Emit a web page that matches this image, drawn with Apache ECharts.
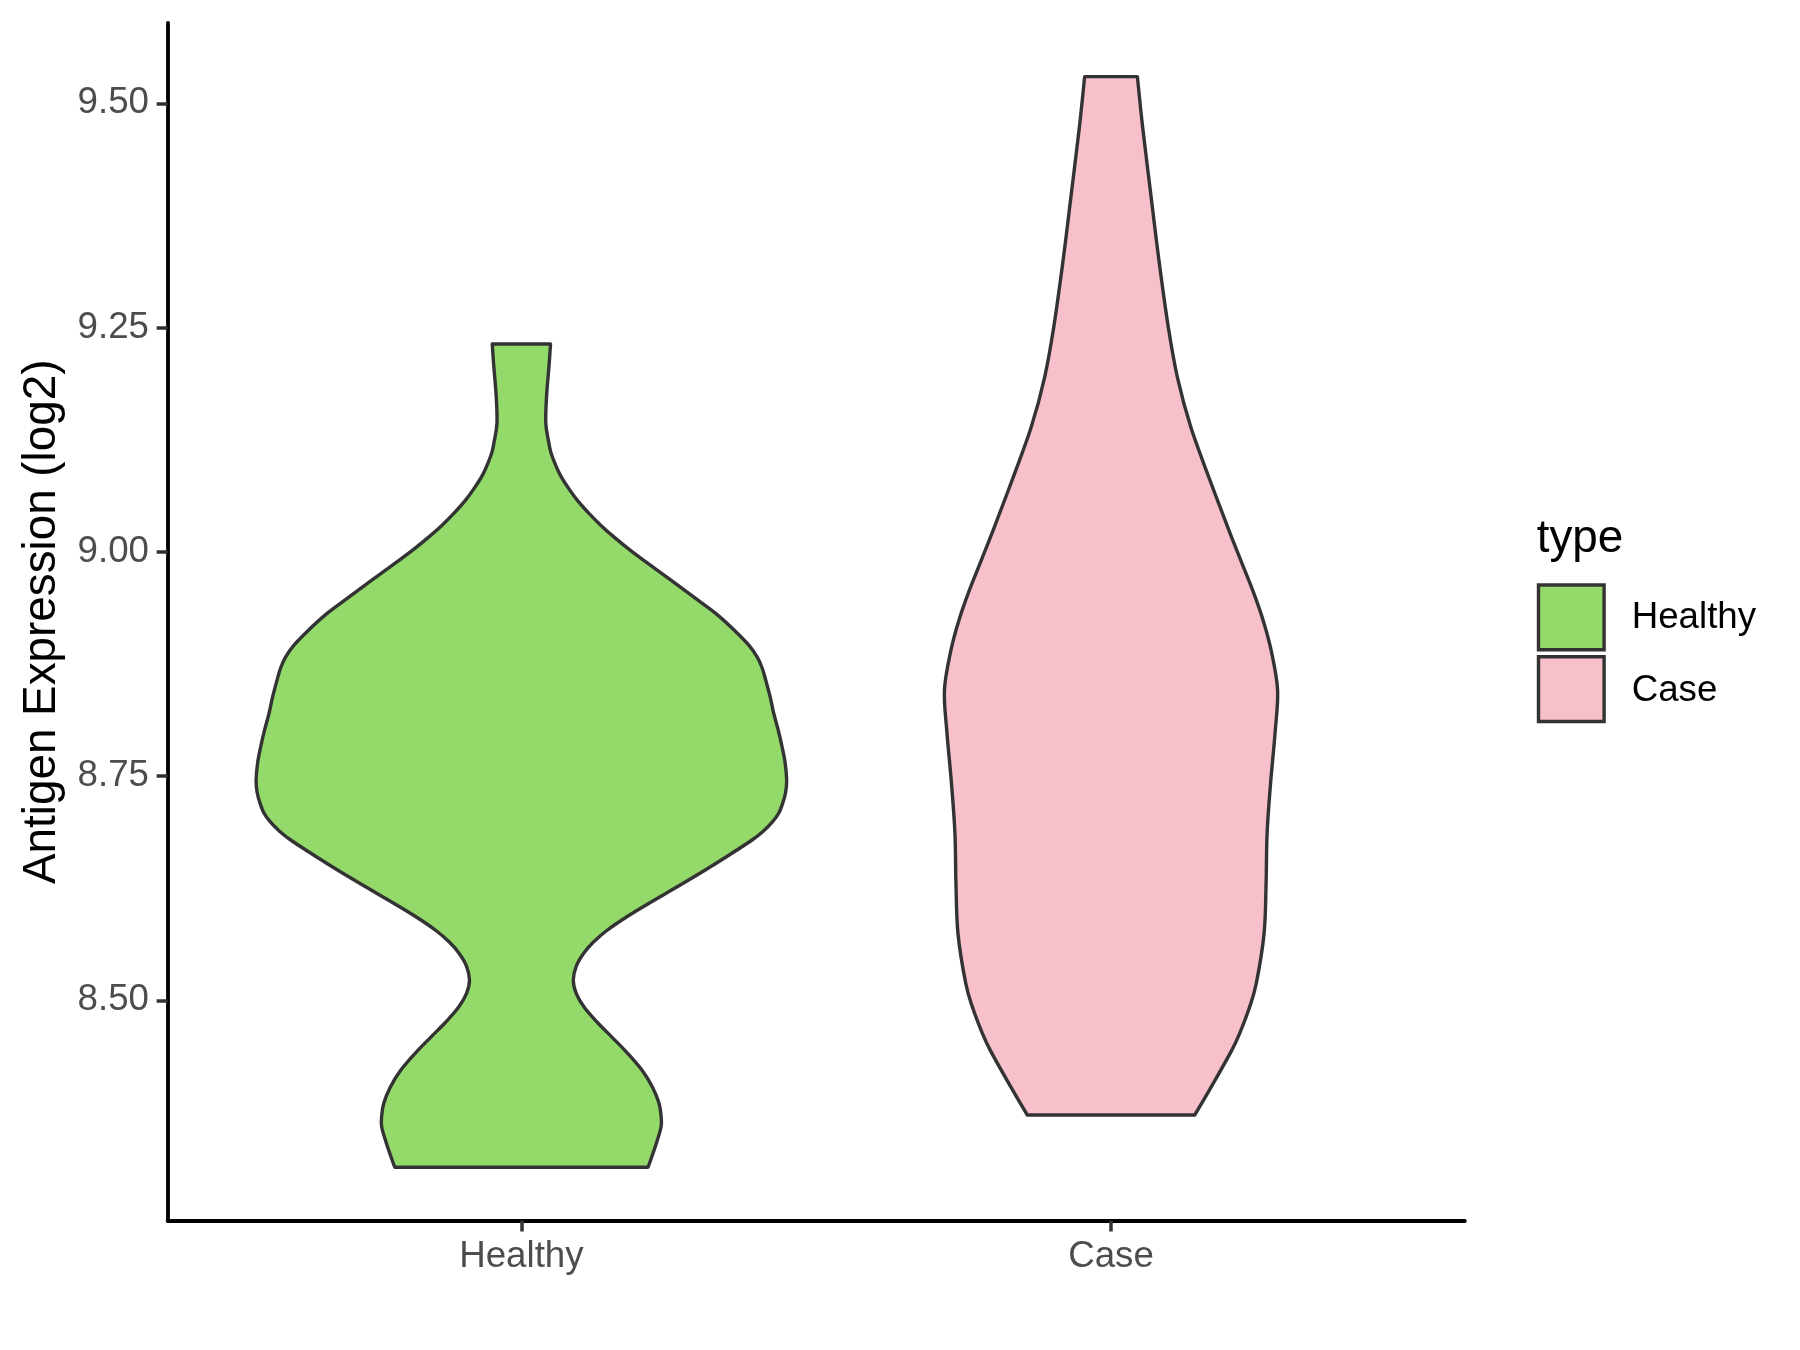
<!DOCTYPE html>
<html><head><meta charset="utf-8">
<script src="https://cdn.jsdelivr.net/npm/echarts@6/dist/echarts.min.js"></script>
<style>html,body{margin:0;padding:0;background:#fff}#chart{width:1800px;height:1350px}</style>
</head><body><div id="chart"></div>
<script>
// ---- data ----
const categories = ['Healthy', 'Case'];
const categoryPositions = [1, 2];
// violin outline: expression values (top -> bottom) and half-widths (x-axis units)
const healthyValues = [9.2316, 9.2104, 9.1725, 9.1435, 9.1245, 9.1111, 9.0989, 9.0855, 9.0721, 9.0576, 9.0431, 9.0297, 9.0163, 9.0018, 8.9873, 8.9684, 8.9494, 8.9316, 8.9126, 8.8959, 8.8825, 8.8702, 8.8569, 8.8379, 8.8201, 8.8011, 8.7821, 8.7643, 8.7453, 8.7320, 8.7197, 8.7085, 8.6985, 8.6885, 8.6784, 8.6617, 8.6450, 8.6271, 8.6082, 8.5926, 8.5781, 8.5647, 8.5524, 8.5379, 8.5223, 8.5078, 8.4922, 8.4755, 8.4587, 8.4409, 8.4219, 8.4030, 8.3851, 8.3717, 8.3584, 8.3361, 8.3138];
const healthyHalfWidths = [0.0494, 0.0472, 0.0426, 0.0414, 0.0457, 0.0499, 0.0567, 0.0660, 0.0787, 0.0947, 0.1142, 0.1345, 0.1573, 0.1844, 0.2140, 0.2537, 0.2926, 0.3290, 0.3611, 0.3857, 0.4000, 0.4085, 0.4144, 0.4220, 0.4279, 0.4356, 0.4423, 0.4474, 0.4499, 0.4482, 0.4432, 0.4364, 0.4254, 0.4102, 0.3907, 0.3518, 0.3112, 0.2656, 0.2165, 0.1776, 0.1455, 0.1218, 0.1057, 0.0930, 0.0880, 0.0930, 0.1066, 0.1286, 0.1539, 0.1801, 0.2047, 0.2224, 0.2334, 0.2368, 0.2368, 0.2267, 0.2148];
const caseValues = [9.5297, 9.4736, 9.4000, 9.3252, 9.2505, 9.1948, 9.1390, 9.0833, 9.0275, 8.9907, 8.9572, 8.9238, 8.8903, 8.8457, 8.7978, 8.7420, 8.6862, 8.6305, 8.5747, 8.5190, 8.4911, 8.4632, 8.4442, 8.4074, 8.3721];
const caseHalfWidths = [0.0447, 0.0536, 0.0672, 0.0812, 0.0971, 0.1125, 0.1353, 0.1658, 0.1979, 0.2199, 0.2402, 0.2579, 0.2715, 0.2825, 0.2782, 0.2706, 0.2647, 0.2630, 0.2596, 0.2464, 0.2343, 0.2182, 0.2047, 0.1734, 0.1421];
const yTickValues = [8.50, 8.75, 9.00, 9.25, 9.50];
const yAxisTitle = 'Antigen Expression (log2)';
const legendTitle = 'type';

// ---- styles ----
const FONT = '"Liberation Sans", Arial, Helvetica, sans-serif';
const fillColors = ['#93DA6A', '#F7C0CB'];
const outline = '#333333';

function catmull(pts) {
  let s = '';
  for (let i = 0; i < pts.length - 1; i++) {
    const p0 = pts[Math.max(i - 1, 0)], p1 = pts[i], p2 = pts[i + 1], p3 = pts[Math.min(i + 2, pts.length - 1)];
    const c1 = [p1[0] + (p2[0] - p0[0]) / 6, p1[1] + (p2[1] - p0[1]) / 6];
    const c2 = [p2[0] - (p3[0] - p1[0]) / 6, p2[1] - (p3[1] - p1[1]) / 6];
    s += ' C' + c1[0] + ',' + c1[1] + ' ' + c2[0] + ',' + c2[1] + ' ' + p2[0] + ',' + p2[1];
  }
  return s;
}

function violinSeries(name, pos, values, widths, color) {
  const data = values.map((v, i) => [pos, v, widths[i]]);
  return {
    type: 'custom', name: name, data: data, clip: false,
    encode: { x: 0, y: 1 },
    renderItem: function (params, api) {
      if (params.dataIndex !== 0) return null;
      const right = data.map(d => api.coord([d[0] + d[2], d[1]]));
      const left = data.map(d => api.coord([d[0] - d[2], d[1]])).reverse();
      let path = 'M' + left[left.length - 1][0] + ',' + left[left.length - 1][1];
      path += ' L' + right[0][0] + ',' + right[0][1];
      path += catmull(right);
      path += ' L' + left[0][0] + ',' + left[0][1];
      path += catmull(left);
      path += ' Z';
      return {
        type: 'path',
        shape: { pathData: path },
        style: { fill: color, stroke: outline, lineWidth: 3.4, lineJoin: 'round' }
      };
    }
  };
}

const chart = echarts.init(document.getElementById('chart'), null, { renderer: 'canvas' });

const legendGraphics = [
  { type: 'text', x: 1536.7, y: 539, style: { text: legendTitle, font: '45.8px ' + FONT, fill: '#000', align: 'left', verticalAlign: 'middle' } }
];
categories.forEach((c, i) => {
  legendGraphics.push({ type: 'rect', shape: { x: 1538.5, y: 585, width: 65.6, height: 64.8, }, y: i * 71.7, style: { fill: fillColors[i], stroke: outline, lineWidth: 3.4 } });
  legendGraphics.push({ type: 'text', x: 1631.7, y: 618 + i * 72.5, style: { text: c, font: '36.7px ' + FONT, fill: '#000', align: 'left', verticalAlign: 'middle' } });
});

chart.setOption({
  animation: false,
  backgroundColor: '#fff',
  grid: { left: 167.6, right: 335.2, top: 23, bottom: 129.5, containLabel: false },
  xAxis: {
    type: 'value', min: 0.4, max: 2.6,
    axisLine: { show: true, onZero: false, lineStyle: { color: '#000', width: 3.8 } },
    axisTick: { show: true, customValues: categoryPositions, length: 11, lineStyle: { color: '#333333', width: 3.5 } },
    axisLabel: { customValues: categoryPositions, formatter: v => { const k = categoryPositions.indexOf(v); return k >= 0 ? categories[k] : ''; }, fontSize: 36.7, fontFamily: FONT, color: '#4D4D4D', margin: 18 },
    splitLine: { show: false }
  },
  yAxis: {
    type: 'value', min: 8.2545, max: 9.5895,
    name: yAxisTitle, nameLocation: 'middle', nameRotate: 90, nameGap: 125.6,
    nameTextStyle: { fontSize: 45.8, fontFamily: FONT, color: '#000', verticalAlign: 'middle' },
    axisLine: { show: true, onZero: false, lineStyle: { color: '#000', width: 3.8 } },
    axisTick: { show: true, customValues: yTickValues, length: 11, lineStyle: { color: '#333333', width: 3.5 } },
    axisLabel: { customValues: yTickValues, formatter: v => v.toFixed(2), fontSize: 36.7, fontFamily: FONT, color: '#4D4D4D', margin: 18.6 },
    splitLine: { show: false }
  },
  series: [
    violinSeries(categories[0], categoryPositions[0], healthyValues, healthyHalfWidths, fillColors[0]),
    violinSeries(categories[1], categoryPositions[1], caseValues, caseHalfWidths, fillColors[1])
  ],
  graphic: legendGraphics
});
</script></body></html>
